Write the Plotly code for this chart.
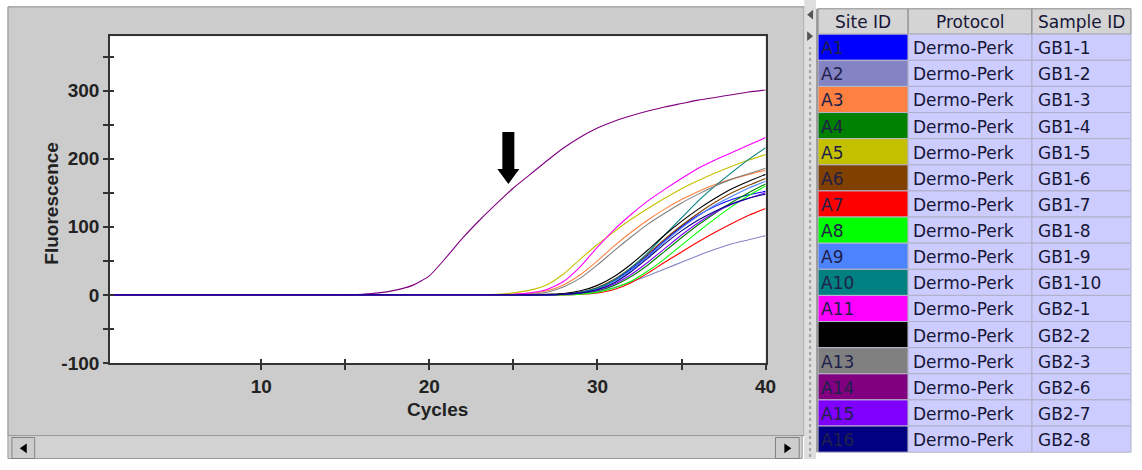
import plotly.graph_objects as go

W, H = 1142, 470

# ---------------- data ----------------
CYCLES = [1, 2, 3, 4, 5, 6, 7, 8, 9, 10, 11, 12, 13, 14, 15, 16, 17, 18, 19, 20,
          21, 22, 23, 24, 25, 26, 27, 28, 29, 30, 31, 32, 33, 34, 35, 36, 37, 38, 39, 40]

SITE_IDS = ["A1", "A2", "A3", "A4", "A5", "A6", "A7", "A8", "A9", "A10",
            "A11", "A12", "A13", "A14", "A15", "A16"]
PROTOCOLS = ["Dermo-Perk", "Dermo-Perk", "Dermo-Perk", "Dermo-Perk", "Dermo-Perk",
             "Dermo-Perk", "Dermo-Perk", "Dermo-Perk", "Dermo-Perk", "Dermo-Perk",
             "Dermo-Perk", "Dermo-Perk", "Dermo-Perk", "Dermo-Perk", "Dermo-Perk",
             "Dermo-Perk"]
SAMPLE_IDS = ["GB1-1", "GB1-2", "GB1-3", "GB1-4", "GB1-5", "GB1-6", "GB1-7", "GB1-8",
              "GB1-9", "GB1-10", "GB2-1", "GB2-2", "GB2-3", "GB2-6", "GB2-7", "GB2-8"]
HEADERS = ["Site ID", "Protocol", "Sample ID"]

F_A1 = [0, 0, 0, 0, 0, 0, 0, 0, 0, 0, 0, 0, 0, 0, 0, 0, 0, 0, 0, 0,
        0, 0, 0, 0, 0, 0, 0, 1, 4, 10, 21, 38, 58, 80, 100, 117, 130, 140, 147, 152]
F_A2 = [0, 0, 0, 0, 0, 0, 0, 0, 0, 0, 0, 0, 0, 0, 0, 0, 0, 0, 0, 0,
        0, 0, 0, 0, 0, 0, 0, 1, 2, 5, 11, 19, 28, 38, 48, 58, 67, 75, 81, 87]
F_A3 = [0, 0, 0, 0, 0, 0, 0, 0, 0, 0, 0, 0, 0, 0, 0, 0, 0, 0, 0, 0,
        0, 0, 0, 0, 1, 2, 6, 15, 30, 50, 72, 92, 110, 126, 140, 152, 162, 170, 177, 183]
F_A4 = [0, 0, 0, 0, 0, 0, 0, 0, 0, 0, 0, 0, 0, 0, 0, 0, 0, 0, 0, 0,
        0, 0, 0, 0, 0, 0, 0, 1, 2, 6, 14, 27, 44, 64, 84, 103, 120, 136, 150, 163]
F_A5 = [0, 0, 0, 0, 0, 0, 0, 0, 0, 0, 0, 0, 0, 0, 0, 0, 0, 0, 0, 0,
        0, 0, 0, 1, 3, 7, 15, 31, 53, 74, 93, 111, 127, 142, 156, 168, 179, 189, 198, 206]
F_A6 = [0, 0, 0, 0, 0, 0, 0, 0, 0, 0, 0, 0, 0, 0, 0, 0, 0, 0, 0, 0,
        0, 0, 0, 0, 0, 0, 0, 1, 4, 11, 23, 40, 60, 82, 102, 120, 136, 150, 161, 171]
F_A7 = [0, 0, 0, 0, 0, 0, 0, 0, 0, 0, 0, 0, 0, 0, 0, 0, 0, 0, 0, 0,
        0, 0, 0, 0, 0, 0, 0, 0, 1, 3, 8, 18, 32, 48, 63, 78, 92, 105, 117, 127]
F_A8 = [0, 0, 0, 0, 0, 0, 0, 0, 0, 0, 0, 0, 0, 0, 0, 0, 0, 0, 0, 0,
        0, 0, 0, 0, 0, 0, 0, 0, 1, 4, 10, 20, 35, 53, 73, 93, 112, 130, 146, 160]
F_A9 = [0, 0, 0, 0, 0, 0, 0, 0, 0, 0, 0, 0, 0, 0, 0, 0, 0, 0, 0, 0,
        0, 0, 0, 0, 0, 0, 0, 1, 3, 9, 20, 36, 56, 78, 98, 116, 132, 145, 157, 167]
F_A10 = [0, 0, 0, 0, 0, 0, 0, 0, 0, 0, 0, 0, 0, 0, 0, 0, 0, 0, 0, 0,
         0, 0, 0, 0, 0, 0, 0, 1, 4, 10, 22, 40, 62, 88, 113, 138, 160, 180, 199, 216]
F_A11 = [0, 0, 0, 0, 0, 0, 0, 0, 0, 0, 0, 0, 0, 0, 0, 0, 0, 0, 0, 0,
         0, 0, 0, 0, 1, 3, 8, 20, 42, 70, 96, 118, 138, 155, 171, 186, 198, 209, 220, 231]
F_A12 = [0, 0, 0, 0, 0, 0, 0, 0, 0, 0, 0, 0, 0, 0, 0, 0, 0, 0, 0, 0,
         0, 0, 0, 0, 0, 0, 1, 2, 6, 14, 27, 45, 66, 88, 108, 126, 142, 156, 167, 177]
F_A13 = [0, 0, 0, 0, 0, 0, 0, 0, 0, 0, 0, 0, 0, 0, 0, 0, 0, 0, 0, 0,
         0, 0, 0, 0, 0, 1, 4, 12, 25, 44, 65, 85, 104, 120, 135, 148, 160, 170, 178, 186]
F_A14 = [0, 0, 0, 0, 0, 0, 0, 0, 0, 0, 0, 0, 0, 0, 0, 1, 3, 7, 14, 28,
         55, 84, 110, 134, 157, 177, 197, 216, 232, 245, 255, 263, 270, 276, 281, 286, 290, 294, 298, 301]
F_A15 = [0, 0, 0, 0, 0, 0, 0, 0, 0, 0, 0, 0, 0, 0, 0, 0, 0, 0, 0, 0,
         0, 0, 0, 0, 0, 0, 0, 1, 3, 7, 16, 30, 48, 68, 88, 106, 121, 133, 142, 150]
F_A16 = [0, 0, 0, 0, 0, 0, 0, 0, 0, 0, 0, 0, 0, 0, 0, 0, 0, 0, 0, 0,
         0, 0, 0, 0, 0, 0, 0, 1, 3, 8, 18, 34, 54, 75, 94, 110, 123, 134, 142, 148]

X_TICKS = [10, 15, 20, 25, 30, 35, 40]
X_LABELS = ["10", "", "20", "", "30", "", "40"]
Y_TICKS = [-100, -50, 0, 50, 100, 150, 200, 250, 300, 350]
Y_LABELS = ["-100", "", "0", "", "100", "", "200", "", "300", ""]

ARROW_CYCLE = 24.7
ARROW_VALUE = 163

# ---------------- styles ----------------
SERIES = [F_A1, F_A2, F_A3, F_A4, F_A5, F_A6, F_A7, F_A8,
          F_A9, F_A10, F_A11, F_A12, F_A13, F_A14, F_A15, F_A16]
COLORS = ["#0000ff", "#8484c4", "#ff8040", "#008000", "#c4c000", "#804000",
          "#ff0000", "#00ff00", "#4c84ff", "#008080", "#ff00ff", "#000000",
          "#808080", "#800080", "#8000ff", "#000080"]

PANEL = "#cccccc"
CELL = "#ccccff"
TEXT = "#161636"


def px(x):
    return x / W


def py(y):
    return 1 - y / H


shapes = []


def rect(x0, y0, x1, y1, fill, line=None, lw=1, layer="below"):
    shapes.append(dict(type="rect", xref="paper", yref="paper",
                       x0=px(x0), x1=px(x1), y0=py(y1), y1=py(y0),
                       fillcolor=fill,
                       line=dict(color=line if line else fill, width=lw if line else 0),
                       layer=layer))


def tri(points, fill="#000000", layer="above"):
    p = "M" + " L".join(f"{px(a):.5f},{py(b):.5f}" for a, b in points) + " Z"
    shapes.append(dict(type="path", xref="paper", yref="paper", path=p,
                       fillcolor=fill, line=dict(width=0), layer=layer))


# plot geometry (pixels)
PL, PR, PT, PB = 111, 773, 37, 371.7

# chart panel
rect(8, 7, 812, 446, PANEL, "#8a8a8a", 1)
rect(PL, PT, PR, PB, "#ffffff")
# scrollbar
rect(8, 446, 810, 469.5, "#d2d2d2", "#9a9a9a", 1)
rect(12, 448, 35, 469.5, "#cdcdcd", "#808080", 1)
rect(783, 448, 807, 469.5, "#cdcdcd", "#808080", 1)
tri([(20, 459), (27, 454), (27, 464)])
tri([(792, 454), (792, 464), (799, 459)])
# splitter
rect(812, 0, 824, 470, "#dedede")
shapes.append(dict(type="line", xref="paper", yref="paper", x0=px(818), x1=px(818),
                   y0=py(468), y1=py(48), line=dict(color="#a0a0a0", width=2, dash="dot")))
tri([(815, 15), (821, 10), (821, 20)], "#555555")
tri([(815, 32), (815, 42), (821, 37)], "#555555")

# table
COLX = [826, 917, 1042, 1142]
TOP, HEAD_B, ROW_H = 9, 35, 26.75
rect(824, 0, 1142, 470, "#ffffff", layer="above")
annotations = []
for j in range(3):
    rect(COLX[j], TOP, COLX[j + 1], HEAD_B, "#d4d4d4", "#8a8a8a", 1, layer="above")
for i in range(len(SITE_IDS)):
    y0 = HEAD_B + i * ROW_H
    y1 = y0 + ROW_H
    rect(COLX[0], y0, COLX[1], y1, COLORS[i], "#b8b8cc", 1, layer="above")
    rect(COLX[1], y0, COLX[2], y1, CELL, "#b0b0c8", 1, layer="above")
    rect(COLX[2], y0, COLX[3], y1, CELL, "#b0b0c8", 1, layer="above")
rect(824, TOP, 826, 463, "#9a9a9a", layer="above")

TFONT = dict(family="DejaVu Sans", size=17, color=TEXT)
hc = [(COLX[0] + COLX[1]) / 2, (COLX[1] + COLX[2]) / 2, 1046]
ha = ["center", "center", "left"]
for j, h in enumerate(HEADERS):
    annotations.append(dict(text=h, xref="paper", yref="paper", x=px(hc[j]),
                            y=py((TOP + HEAD_B) / 2 + 1), xanchor=ha[j], yanchor="middle",
                            showarrow=False, font=TFONT))
for i in range(len(SITE_IDS)):
    yc = HEAD_B + i * ROW_H + ROW_H / 2 + 1
    annotations.append(dict(text=SITE_IDS[i], xref="paper", yref="paper", x=px(827),
                            y=py(yc), xanchor="left", yanchor="middle", showarrow=False,
                            font=dict(family="DejaVu Sans", size=17,
                                      color="#000000" if COLORS[i] == "#000000" else "#20204a")))
    annotations.append(dict(text=PROTOCOLS[i], xref="paper", yref="paper", x=px(920),
                            y=py(yc), xanchor="left", yanchor="middle", showarrow=False,
                            font=TFONT))
    annotations.append(dict(text=SAMPLE_IDS[i], xref="paper", yref="paper", x=px(1046),
                            y=py(yc), xanchor="left", yanchor="middle", showarrow=False,
                            font=TFONT))

# axis titles
BOLD = dict(family="Liberation Sans", size=19, color="#222222", weight="bold")
annotations.append(dict(text="Fluorescence", xref="paper", yref="paper", x=px(52), y=py(208),
                        xanchor="center", yanchor="middle", textangle=-90, showarrow=False,
                        font=BOLD))
annotations.append(dict(text="Cycles", xref="paper", yref="paper", x=px(442), y=py(419),
                        xanchor="center", yanchor="middle", showarrow=False, font=BOLD))

# arrow marker
shapes.append(dict(type="path", xref="x", yref="y", xsizemode="pixel", ysizemode="pixel",
                   xanchor=ARROW_CYCLE, yanchor=ARROW_VALUE,
                   path="M0,0 L-11,15 L-6,15 L-6,52 L6,52 L6,15 L11,15 Z",
                   fillcolor="#000000", line=dict(width=0), layer="above"))

fig = go.Figure()
for s, c in zip(SERIES, COLORS):
    fig.add_trace(go.Scatter(x=CYCLES, y=s, mode="lines",
                             line=dict(color=c, width=1.1, shape="spline", smoothing=0.6),
                             hoverinfo="skip", xaxis="x", yaxis="y"))
fig.add_trace(go.Scatter(x=[], y=[], xaxis="x2", yaxis="y2", hoverinfo="skip"))

AX = "#333333"
xdom = [px(PL), px(PR)]
ydom = [py(PB), py(PT)]
fig.update_layout(
    autosize=True, margin=dict(l=0, r=0, t=0, b=0),
    paper_bgcolor="#ffffff", plot_bgcolor="#ffffff", showlegend=False,
    xaxis=dict(domain=xdom, range=[1, 40], tickvals=X_TICKS, ticktext=X_LABELS,
               ticks="outside", ticklen=5, tickwidth=1.5, tickcolor=AX,
               showline=True, linecolor=AX, linewidth=1.5, mirror=True,
               showgrid=False, zeroline=False, tickfont=BOLD, anchor="y"),
    yaxis=dict(domain=ydom, range=[-100, 380], tickvals=Y_TICKS, ticktext=Y_LABELS,
               ticks="outside", ticklen=5, tickwidth=1.5, tickcolor=AX,
               showline=True, linecolor=AX, linewidth=1.5, mirror=True,
               showgrid=False, zeroline=False, tickfont=BOLD, anchor="x"),
    xaxis2=dict(overlaying="x", anchor="y2", range=[1, 40], tickvals=X_TICKS,
                ticks="inside", ticklen=4, tickwidth=1.5, tickcolor=AX,
                showticklabels=False, showline=False, showgrid=False, zeroline=False),
    yaxis2=dict(overlaying="y", anchor="x2", range=[-100, 380], tickvals=Y_TICKS,
                ticks="inside", ticklen=4, tickwidth=1.5, tickcolor=AX,
                showticklabels=False, showline=False, showgrid=False, zeroline=False),
    shapes=shapes, annotations=annotations,
)

POST = (
    "var d=document.getElementById('{plot_id}');"
    "document.documentElement.style.margin='0';document.documentElement.style.padding='0';"
    "document.documentElement.style.overflow='hidden';"
    "document.body.style.margin='0';document.body.style.padding='0';"
    "document.body.style.overflow='hidden';"
    "d.style.position='fixed';d.style.left='0px';d.style.top='0px';"
    "d.style.width='100vw';d.style.height='100vh';"
    "Plotly.Plots.resize(d);"
)

fig.write_html("out.html", config={"displayModeBar": False, "responsive": True},
               default_width="100vw", default_height="100vh", post_script=POST)
